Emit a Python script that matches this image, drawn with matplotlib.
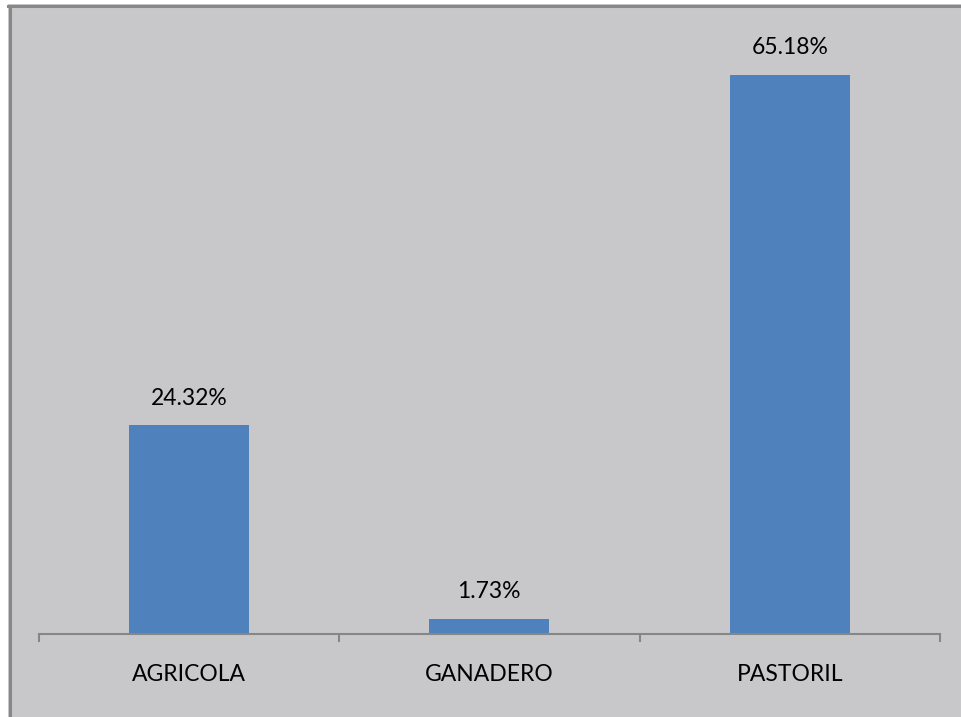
import matplotlib
matplotlib.use("Agg")
import matplotlib.pyplot as plt
from matplotlib.patches import Rectangle
from matplotlib.lines import Line2D

## data
categories = ["AGRICOLA", "GANADERO", "PASTORIL"]
values = [24.32, 1.73, 65.18]

W, H = 961, 717
fig = plt.figure(figsize=(W / 100, H / 100), dpi=100, facecolor="white")

# grey chart area with border on top/left only (cropped screenshot)
fig.patches.append(Rectangle((8 / W, 0), 1, (H - 4) / H, transform=fig.transFigure,
                             facecolor="#c8c8ca", edgecolor="none", zorder=-10))
fig.lines.append(Line2D([9.5 / W, 9.5 / W], [0, (H - 5.5) / H], transform=fig.transFigure,
                        color="#878787", lw=2.2, zorder=-5))
fig.lines.append(Line2D([8 / W, 1], [(H - 5.5) / H, (H - 5.5) / H], transform=fig.transFigure,
                        color="#878787", lw=2.2, zorder=-5))

ax = fig.add_axes([38.7 / W, (H - 633.7) / H, (940 - 38.7) / W, 600 / H])
ax.set_facecolor("none")
x = range(len(categories))
bars = ax.bar(x, values, width=0.4, color="#4f81bd")
ax.set_xlim(-0.5, len(categories) - 0.5)
ax.set_ylim(0, 70)

for s in ["top", "left", "right"]:
    ax.spines[s].set_visible(False)
ax.spines["bottom"].set_color("#868686")
ax.spines["bottom"].set_linewidth(1.5)
ax.set_yticks([])

ax.set_xticks([-0.5, 0.5, 1.5, 2.5])
ax.set_xticklabels([])
ax.tick_params(axis="x", which="major", direction="out", length=6, width=1.5, color="#868686")
ax.set_xticks(list(x), minor=True)
ax.set_xticklabels(categories, minor=True, fontsize=16.5, family="Lato")
ax.tick_params(axis="x", which="minor", length=0, pad=21.5)

for b, v in zip(bars, values):
    ax.annotate(f"{v:.2f}%", (b.get_x() + b.get_width() / 2, v), xytext=(0, 19.5),
                textcoords="offset points", ha="center", va="center",
                fontsize=16.5, family="Lato")

fig.savefig("out.png", dpi=100, facecolor=fig.get_facecolor())
